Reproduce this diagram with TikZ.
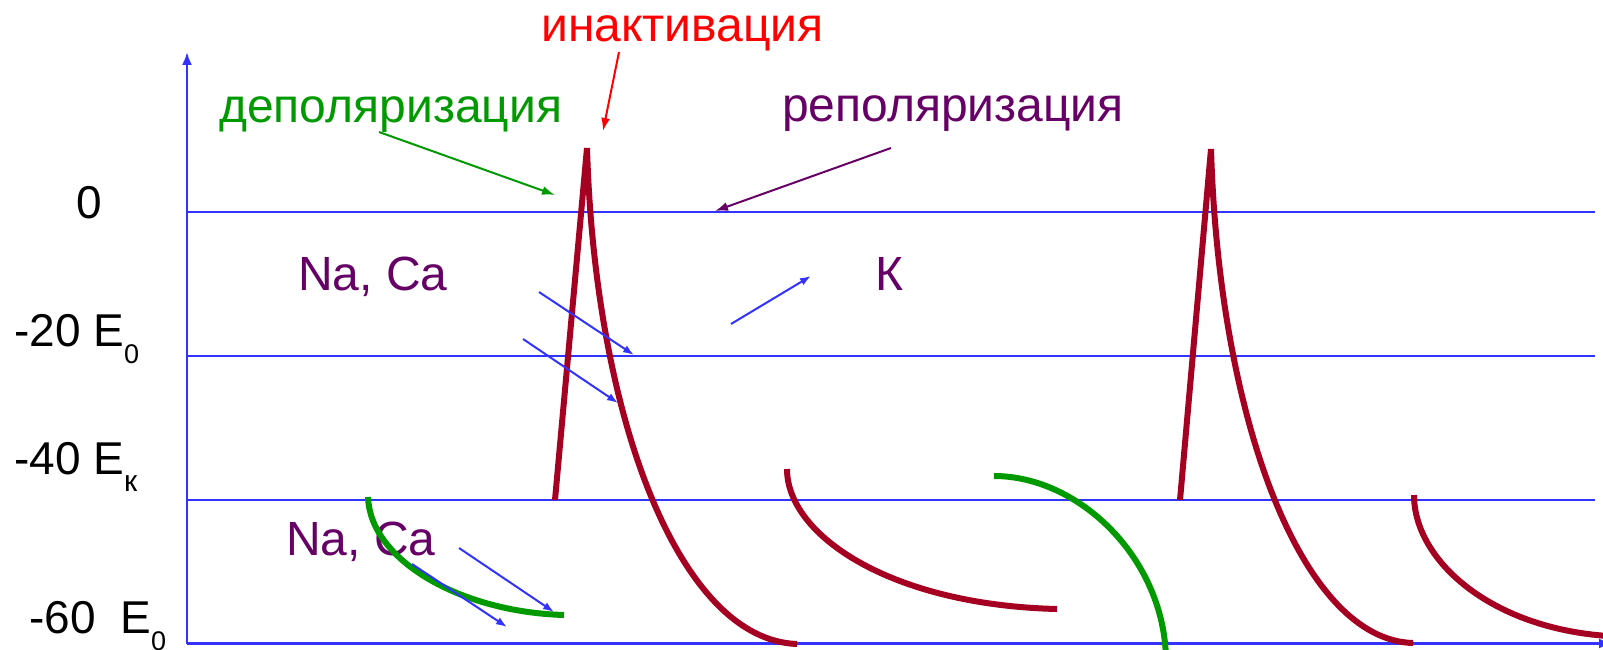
\documentclass[tikz,border=0pt]{standalone}
\usepackage{fontspec}
\setmainfont{Liberation Sans}
\usetikzlibrary{arrows.meta}
\definecolor{axblue}{HTML}{3333FF}
\definecolor{apred}{HTML}{A50021}
\definecolor{dgreen}{HTML}{009900}
\definecolor{purp}{HTML}{660066}
\definecolor{ired}{HTML}{FF0000}
\newcommand{\axfont}{\fontsize{46pt}{50pt}\selectfont}
\newcommand{\bigfont}{\fontsize{48pt}{52pt}\selectfont}
\newcommand{\ionfont}{\fontsize{48pt}{52pt}\selectfont}
\newcommand{\subz}[1]{\raisebox{-17pt}{\fontsize{27pt}{27pt}\selectfont #1}}
\newcommand{\subk}[1]{\raisebox{-17pt}{\fontsize{30pt}{30pt}\selectfont #1}}
\begin{document}
\begin{tikzpicture}[x=1pt,y=-1pt,
  gridline/.style={axblue, line width=2.2pt},
  apcurve/.style={apred, line width=6pt},
  grcurve/.style={dgreen, line width=6pt},
  barrow/.style={axblue, line width=2pt, -{Latex[length=11pt,width=8pt]}},
  lblarrow/.style={line width=2pt, -{Latex[length=13pt,width=9pt]}},
  lbl/.style={inner sep=0pt, anchor=base west}]
\useasboundingbox (0,0) rectangle (1603,650);
\fill[white] (0,0) rectangle (1603,650);
% grid lines
\draw[gridline] (187,211.7) -- (1595,211.7);
\draw[gridline] (187,355.7) -- (1595,355.7);
\draw[gridline] (187,499.8) -- (1595,499.8);
\draw[gridline, -{Latex[length=13pt,width=10pt]}] (187,643.5) -- (1612,643.5);
\draw[gridline, -{Latex[length=13pt,width=10pt]}] (187,643.5) -- (187,52);
% axis labels
\node[lbl] (t0) at (76,218) {\axfont 0};
\node[lbl] (t20) at (14,346) {\axfont -20 E\subz{0}};
\node[lbl] (t40) at (14,474) {\axfont -40 E\subk{к}};
\node[lbl] (t60) at (29,633) {\axfont -60\hspace{12pt} E\subz{0}};
% labels
\node[lbl, text=dgreen] (dep) at (219,123) {\bigfont деполяризация};
\node[lbl, text=ired] (inact) at (541,42) {\bigfont инактивация};
\node[lbl, text=purp] (repol) at (782,122) {\bigfont реполяризация};
\node[lbl, text=purp] (naca1) at (298,290) {\ionfont Na, Ca};
\node[lbl, text=purp] (kk) at (875,290) {\ionfont К};
\node[lbl, text=purp] (naca2) at (286,555) {\ionfont Na, Ca};
% action potentials
\draw[apcurve] (555,500) -- (587,148);
\draw[apcurve] (587,148) .. controls (595,420) and (680,640) .. (797,644);
\draw[apcurve] (787,469) .. controls (787,535) and (890,605) .. (1057,609);
\draw[apcurve] (1180,500) -- (1211,149);
\draw[apcurve] (1211,149) .. controls (1219,420) and (1302,640) .. (1413,643);
\draw[apcurve] (1414,495) .. controls (1414,560) and (1490,628) .. (1608,636);
% green curves
\draw[grcurve] (368,497) .. controls (370,560) and (460,612) .. (564,615);
\draw[grcurve] (994,476) .. controls (1080,476) and (1166,560) .. (1166,662);
% label arrows
\coordinate (dA) at (379,132); \coordinate (dB) at (555,195);
\coordinate (iA) at (619,52); \coordinate (iB) at (603,131);
\coordinate (rA) at (891,148); \coordinate (rB) at (715,211);
\draw[lblarrow, dgreen] (dA) -- (dB);
\draw[lblarrow, ired] (iA) -- (iB);
\draw[lblarrow, purp] (rA) -- (rB);
% ion arrows
\coordinate (b1A) at (539,292); \coordinate (b1B) at (634,355);
\coordinate (b2A) at (523,339); \coordinate (b2B) at (618,403);
\coordinate (bkA) at (731,324); \coordinate (bkB) at (811,276);
\coordinate (b3A) at (459,548); \coordinate (b3B) at (554,612);
\coordinate (b4A) at (412,564); \coordinate (b4B) at (507,627);
\draw[barrow] (b1A) -- (b1B);
\draw[barrow] (b2A) -- (b2B);
\draw[barrow] (bkA) -- (bkB);
\draw[barrow] (b3A) -- (b3B);
\draw[barrow] (b4A) -- (b4B);
\end{tikzpicture}
\end{document}
